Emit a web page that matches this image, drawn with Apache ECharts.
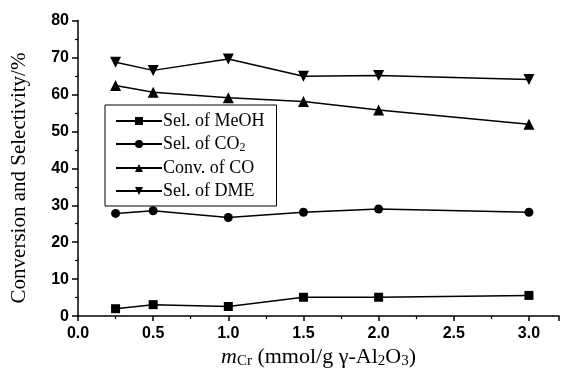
<!DOCTYPE html>
<html>
<head>
<meta charset="utf-8">
<script src="https://cdn.jsdelivr.net/npm/echarts@6/dist/echarts.min.js"></script>
<style>
  html, body { margin: 0; padding: 0; background: #fff; }
  #chart { width: 561px; height: 374px; }
</style>
</head>
<body>
<div id="chart"></div>
<script>
// Cr loading (mmol/g γ-Al2O3)
const loadings = [0.25, 0.5, 1.0, 1.5, 2.0, 3.0]

// values in %
const selMeOH = [2.0, 3.1, 2.6, 5.1, 5.1, 5.6]
const selCO2 = [27.8, 28.5, 26.7, 28.1, 29.0, 28.1]
const convCO = [62.4, 60.6, 59.1, 58.1, 55.8, 51.9]
const selDME = [68.7, 66.5, 69.6, 64.9, 65.1, 64.0]

const seriesNames = ['Sel. of MeOH', 'Sel. of CO2', 'Conv. of CO', 'Sel. of DME']

const serif = '"Liberation Serif", "Times New Roman", serif'
const sans = '"Liberation Sans", Arial, sans-serif'

function pairs(vals) {
  return loadings.map((x, i) => [x, vals[i]])
}

function makeSeries(name, vals, symbol, size, rotate) {
  return {
    name: name,
    type: 'line',
    data: pairs(vals),
    symbol: symbol,
    symbolSize: size,
    symbolRotate: rotate || 0,
    showAllSymbol: true,
    lineStyle: { color: '#000', width: 1.5 },
    itemStyle: { color: '#000' },
    animation: false
  }
}

const chart = echarts.init(document.getElementById('chart'))

chart.setOption({
  backgroundColor: '#fff',
  animation: false,
  grid: { left: 78, right: 2, top: 20.5, bottom: 56 },
  legend: {
    orient: 'vertical',
    left: 105,
    top: 105,
    padding: [7, 12, 6, 10],
    itemWidth: 46,
    itemHeight: 10,
    itemGap: 5,
    borderColor: '#000',
    borderWidth: 1,
    data: seriesNames,
    textStyle: {
      fontFamily: serif,
      fontSize: 18,
      color: '#000',
      padding: [0, 0, 0, -4],
      rich: { sub: { fontFamily: serif, fontSize: 12, padding: [8, 0, 0, 0] } }
    },
    formatter: function (n) {
      return n === 'Sel. of CO2' ? 'Sel. of CO{sub|2}' : n
    }
  },
  xAxis: {
    type: 'value',
    min: 0,
    max: 3.2,
    interval: 0.5,
    name: '{i|m}{s|Cr} (mmol/g γ-Al{s|2}O{s|3})',
    nameLocation: 'middle',
    nameGap: 28,
    nameTextStyle: {
      fontFamily: serif,
      fontSize: 22,
      color: '#000',
      rich: {
        i: { fontFamily: serif, fontSize: 22, fontStyle: 'italic' },
        s: { fontFamily: serif, fontSize: 15, padding: [9, 0, 0, 0] }
      }
    },
    axisLine: { lineStyle: { color: '#000', width: 1.5 } },
    axisTick: { length: 5, lineStyle: { color: '#000', width: 1.5 } },
    minorTick: { show: true, splitNumber: 2, length: 3, lineStyle: { color: '#000', width: 1.2 } },
    splitLine: { show: false },
    axisLabel: {
      margin: 9,
      color: '#000',
      fontFamily: sans,
      fontWeight: 'bold',
      fontSize: 16,
      showMaxLabel: false,
      formatter: v => v.toFixed(1)
    }
  },
  yAxis: {
    type: 'value',
    min: 0,
    max: 80,
    interval: 10,
    axisLine: { show: true, lineStyle: { color: '#000', width: 1.5 } },
    axisTick: { show: true, length: 6, lineStyle: { color: '#000', width: 1.5 } },
    minorTick: { show: true, splitNumber: 2, length: 3, lineStyle: { color: '#000', width: 1.2 } },
    splitLine: { show: false },
    axisLabel: {
      margin: 9,
      color: '#000',
      fontFamily: sans,
      fontWeight: 'bold',
      fontSize: 16
    }
  },
  graphic: [
    {
      type: 'text',
      x: 19,
      y: 178,
      rotation: Math.PI / 2,
      style: {
        text: 'Conversion and Selectivity/%',
        fontFamily: serif,
        fontSize: 21,
        fill: '#000',
        align: 'center',
        verticalAlign: 'middle'
      }
    }
  ],
  series: [
    makeSeries(seriesNames[0], selMeOH, 'rect', 9),
    makeSeries(seriesNames[1], selCO2, 'circle', 9),
    makeSeries(seriesNames[2], convCO, 'triangle', 11),
    makeSeries(seriesNames[3], selDME, 'triangle', 11, 180)
  ]
})
</script>
</body>
</html>
